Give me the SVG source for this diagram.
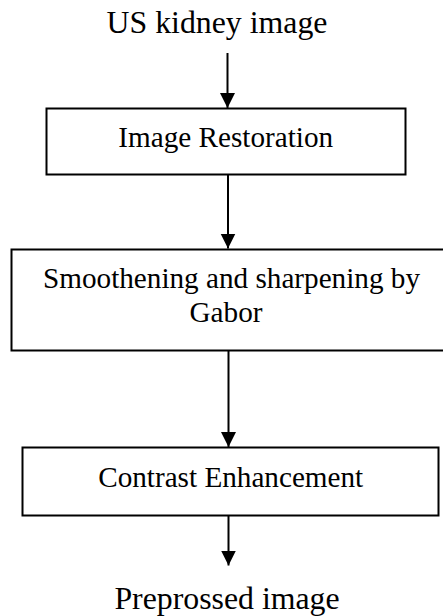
<svg xmlns="http://www.w3.org/2000/svg" width="443" height="616" viewBox="0 0 443 616">
  <style>
    .box { fill: #ffffff; stroke: #000000; stroke-width: 2; }
    .lbl { font-family: "Liberation Serif", "Times New Roman", serif; font-size: 29.2px; fill: #000000; text-anchor: middle; }
    .term { font-family: "Liberation Serif", "Times New Roman", serif; font-size: 31.8px; fill: #000000; text-anchor: middle; }
    .edge { stroke: #000000; stroke-width: 2; fill: none; marker-end: url(#head); }
  </style>
  <defs>
    <marker id="head" markerUnits="userSpaceOnUse" markerWidth="16" markerHeight="16" refX="15" refY="7.5" orient="auto">
      <path d="M0,0 L15,7.5 L0,15 z" fill="#000000"/>
    </marker>
  </defs>
  <rect width="443" height="616" fill="#ffffff"/>

  <!-- flow connectors -->
  <g id="connectors">
    <line class="edge" x1="227.5" y1="53" x2="227.5" y2="108"/>
    <line class="edge" x1="228" y1="174" x2="228" y2="248.5"/>
    <line class="edge" x1="228.5" y1="350.5" x2="228.5" y2="447"/>
    <line class="edge" x1="228.5" y1="515.5" x2="228.5" y2="565.5"/>
  </g>

  <g id="input">
    <text class="term" x="217" y="33">US kidney image</text>
  </g>

  <g id="restoration">
    <rect class="box" x="46.5" y="108.5" width="359" height="66"/>
    <text class="lbl" x="225.7" y="146.7">Image Restoration</text>
  </g>

  <g id="gabor">
    <rect class="box" x="11.5" y="249.5" width="440" height="101"/>
    <text class="lbl" x="231.5" y="288.3">Smoothening and sharpening by</text>
    <text class="lbl" x="226" y="321.7">Gabor</text>
  </g>

  <g id="contrast">
    <rect class="box" x="22.5" y="447.5" width="416" height="68"/>
    <text class="lbl" x="230.7" y="487.3">Contrast Enhancement</text>
  </g>

  <g id="output">
    <text class="term" x="227" y="609">Preprossed image</text>
  </g>
</svg>
